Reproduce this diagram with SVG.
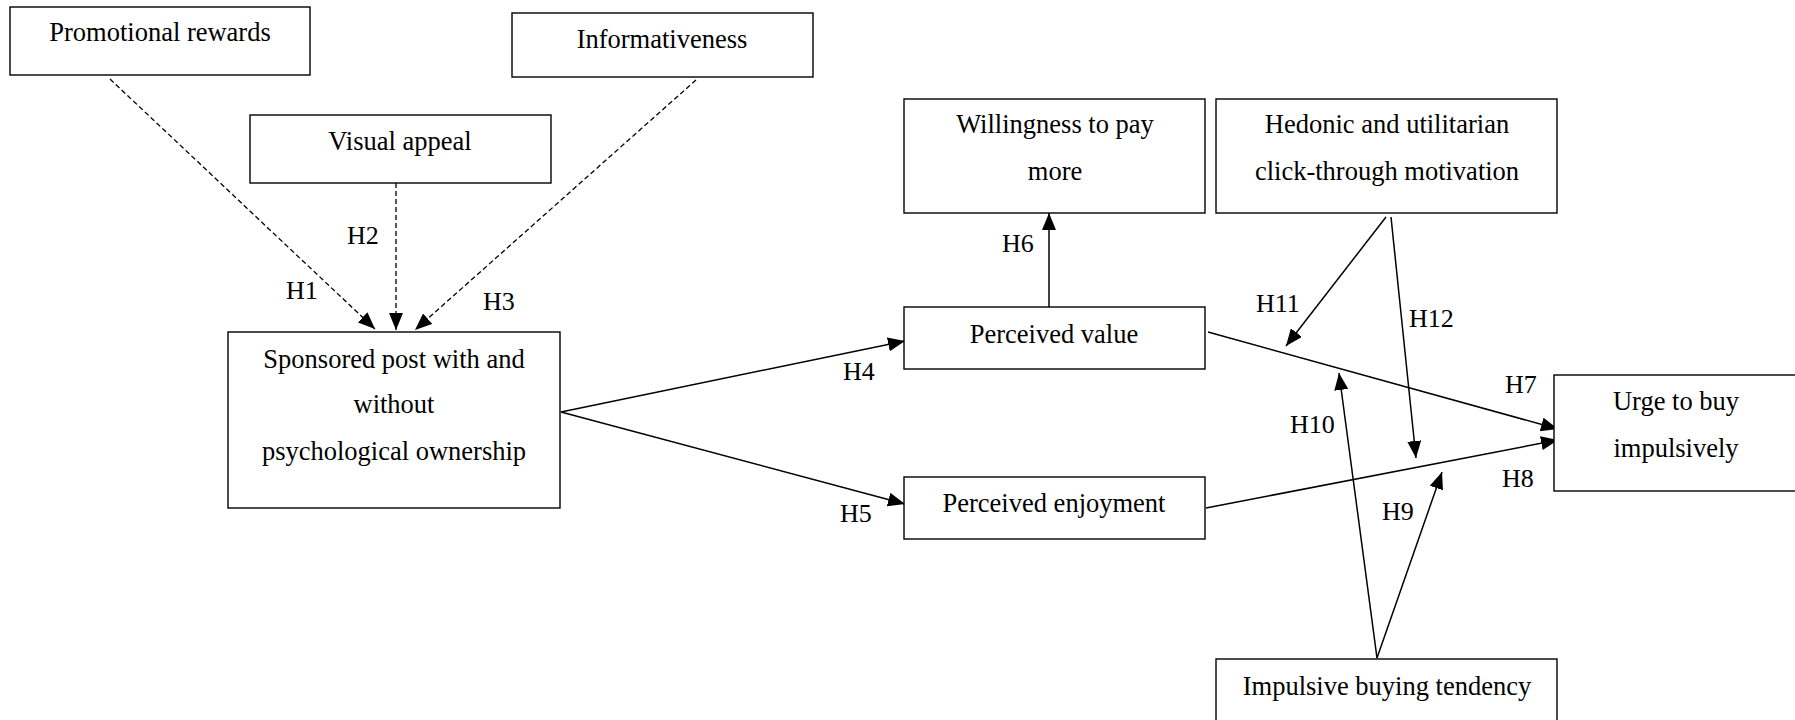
<svg xmlns="http://www.w3.org/2000/svg" width="1795" height="720" viewBox="0 0 1795 720">
<style>
.box{fill:#fff;stroke:#000;stroke-width:1.4}
.t{font-family:"Liberation Serif","Times New Roman",serif;font-size:26.5px;fill:#000;text-anchor:middle}
.lb{font-family:"Liberation Serif","Times New Roman",serif;font-size:26px;fill:#000}
.c{fill:none;stroke:#000;stroke-width:1.5;marker-end:url(#ah)}
.d{fill:none;stroke:#000;stroke-width:1.3;stroke-dasharray:5 3;marker-end:url(#ah)}
</style>
<defs>
<marker id="ah" markerUnits="userSpaceOnUse" markerWidth="18" markerHeight="14" refX="17" refY="7" orient="auto" viewBox="0 0 18 14">
<path d="M0,0 L17,7 L0,14 Z" fill="#000"/>
</marker>
</defs>
<rect width="1795" height="720" fill="#fff"/>
<g id="connectors">
<line class="d" x1="110" y1="79" x2="375" y2="329"/>
<line class="d" x1="396" y1="183" x2="396" y2="330"/>
<line class="d" x1="696" y1="80" x2="415" y2="330"/>
<line class="c" x1="561" y1="412" x2="905" y2="341"/>
<line class="c" x1="561" y1="412" x2="905" y2="504"/>
<line class="c" x1="1049" y1="307" x2="1049" y2="213"/>
<line class="c" x1="1208" y1="332" x2="1558" y2="429"/>
<line class="c" x1="1206" y1="508" x2="1558" y2="440"/>
<line class="c" x1="1377" y1="658" x2="1442" y2="472"/>
<line class="c" x1="1377" y1="658" x2="1339" y2="373"/>
<line class="c" x1="1386" y1="217" x2="1286" y2="346"/>
<line class="c" x1="1391" y1="217" x2="1416" y2="458"/>
<text class="lb" x="286" y="299">H1</text>
<text class="lb" x="347" y="244">H2</text>
<text class="lb" x="483" y="310">H3</text>
<text class="lb" x="843" y="380">H4</text>
<text class="lb" x="840" y="522">H5</text>
<text class="lb" x="1002" y="252">H6</text>
<text class="lb" x="1505" y="393">H7</text>
<text class="lb" x="1502" y="487">H8</text>
<text class="lb" x="1382" y="520">H9</text>
<text class="lb" x="1290" y="433">H10</text>
<text class="lb" x="1256" y="312">H11</text>
<text class="lb" x="1409" y="327">H12</text>
</g>
<g id="promotional">
<rect class="box" x="10" y="7" width="300" height="68"/>
<text class="t" x="160" y="41">Promotional rewards</text>
</g>
<g id="informativeness">
<rect class="box" x="512" y="13" width="301" height="64"/>
<text class="t" x="662" y="48">Informativeness</text>
</g>
<g id="visual">
<rect class="box" x="250" y="115" width="301" height="68"/>
<text class="t" x="400" y="150">Visual appeal</text>
</g>
<g id="sponsored">
<rect class="box" x="228" y="332" width="332" height="176"/>
<text class="t" x="394" y="368">Sponsored post with and</text>
<text class="t" x="394" y="413">without</text>
<text class="t" x="394" y="460">psychological ownership</text>
</g>
<g id="willingness">
<rect class="box" x="904" y="99" width="301" height="114"/>
<text class="t" x="1055" y="133">Willingness to pay</text>
<text class="t" x="1055" y="180">more</text>
</g>
<g id="hedonic">
<rect class="box" x="1216" y="99" width="341" height="114"/>
<text class="t" x="1387" y="133">Hedonic and utilitarian</text>
<text class="t" x="1387" y="180">click-through motivation</text>
</g>
<g id="value">
<rect class="box" x="904" y="307" width="301" height="62"/>
<text class="t" x="1054" y="343">Perceived value</text>
</g>
<g id="enjoyment">
<rect class="box" x="904" y="477" width="301" height="62"/>
<text class="t" x="1054" y="512">Perceived enjoyment</text>
</g>
<g id="urge">
<rect class="box" x="1554" y="375" width="250" height="116"/>
<text class="t" x="1676" y="410">Urge to buy</text>
<text class="t" x="1676" y="457">impulsively</text>
</g>
<g id="impulsive">
<rect class="box" x="1216" y="659" width="341" height="80"/>
<text class="t" x="1387" y="695">Impulsive buying tendency</text>
</g>
</svg>
